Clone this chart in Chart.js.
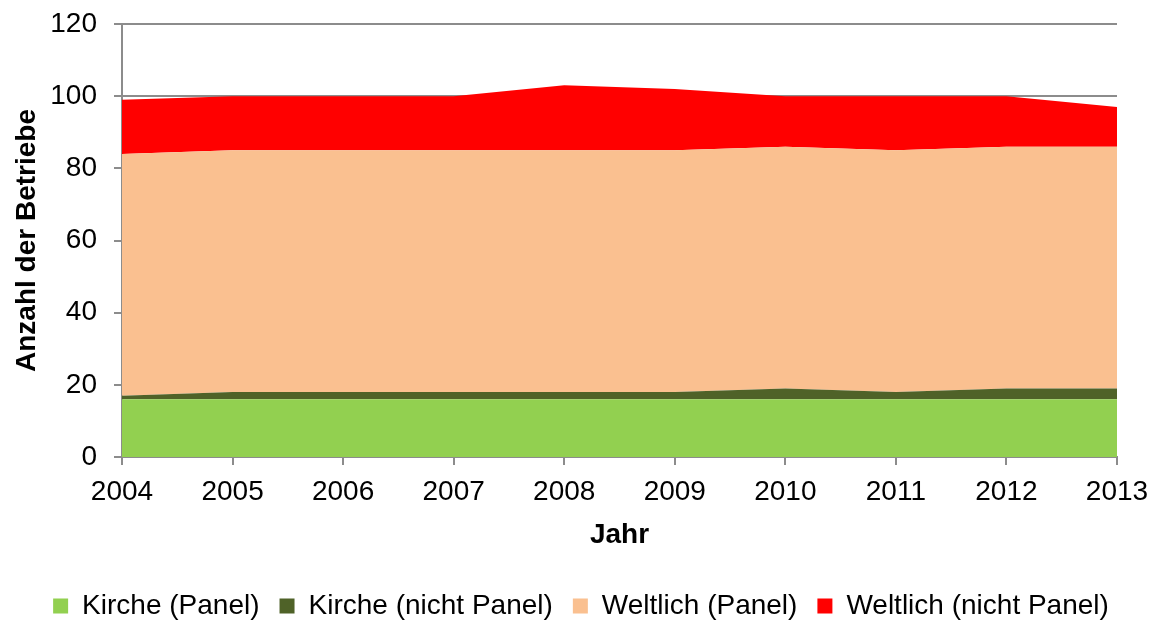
<!DOCTYPE html>
<html>
<head>
<meta charset="utf-8">
<script src="https://cdn.jsdelivr.net/npm/chart.js@4/dist/chart.umd.min.js"></script>
<style>
html,body{margin:0;padding:0;background:#fff;}
#wrap{width:1158px;height:621px;}
</style>
</head>
<body>
<div id="wrap"><canvas id="c" width="1158" height="621"></canvas></div>
<script>
const years = ["2004","2005","2006","2007","2008","2009","2010","2011","2012","2013"];
const kirchePanel = [16,16,16,16,16,16,16,16,16,16];
const kircheNichtPanel = [1,2,2,2,2,2,3,2,3,3];
const weltlichPanel = [67,67,67,67,67,67,67,67,67,67];
const weltlichNichtPanel = [15,15,15,15,18,17,14,15,14,11];
const yTicks = [0,20,40,60,80,100,120];

const axisColor = '#8c8c8c';
const font = {family:"'Liberation Sans', Arial, sans-serif", size:28};

function ds(label, data, color, fill){
  return {label, data, backgroundColor:color, borderColor:color, borderWidth:0,
    pointRadius:0, fill, tension:0};
}

const legendShift = {
  id:'legendShift',
  afterLayout(chart){
    const lg = chart.legend;
    const dy = 630 - lg.bottom;
    lg.top += dy; lg.bottom += dy;
    const dx = 581 - (lg.left + lg.right) / 2;
    lg.left += dx; lg.right += dx;
  }
};

new Chart(document.getElementById('c'), {
  type:'line',
  data:{
    labels:years,
    datasets:[
      ds('Kirche (Panel)', kirchePanel, '#92d050', 'origin'),
      ds('Kirche (nicht Panel)', kircheNichtPanel, '#4f6228', '-1'),
      ds('Weltlich (Panel)', weltlichPanel, '#fac090', '-1'),
      ds('Weltlich (nicht Panel)', weltlichNichtPanel, '#ff0000', '-1')
    ]
  },
  plugins:[legendShift],
  options:{
    responsive:false,
    animation:false,
    layout:{padding:{top:24,right:41,left:6,bottom:0}},
    plugins:{
      legend:{position:'bottom',
        labels:{font, color:'#000', boxWidth:15, boxHeight:15, padding:20, useBorderRadius:false}},
      tooltip:{enabled:false}
    },
    scales:{
      x:{
        offset:false,
        afterFit:(s)=>{ s.paddingLeft = 0; s.paddingRight = 0; s.height = 106; },
        grid:{display:true, drawOnChartArea:false, color:axisColor, tickLength:8, lineWidth:2},
        border:{color:axisColor, width:2},
        ticks:{font, color:'#000', padding:10, maxRotation:0, autoSkip:false},
        title:{display:true, text:'Jahr', font:{...font, weight:'bold'}, color:'#000', padding:{top:4,bottom:11}}
      },
      y:{
        stacked:true,
        min:0, max:120,
        afterFit:(s)=>{ s.width = 116; s.paddingTop = 0; s.paddingBottom = 0; },
        afterBuildTicks:(s)=>{ s.ticks = yTicks.map(v=>({value:v})); },
        grid:{color:axisColor, tickLength:8, lineWidth:2},
        border:{color:axisColor, width:2},
        ticks:{font, color:'#000', padding:17},
        title:{display:true, text:'Anzahl der Betriebe', font:{...font, weight:'bold'}, color:'#000', padding:{top:4,bottom:4}}
      }
    }
  }
});
</script>
</body>
</html>
